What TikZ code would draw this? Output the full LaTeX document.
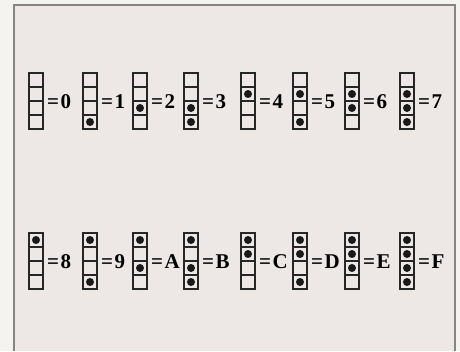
\documentclass[tikz,border=0pt]{standalone}
\usepackage{fontspec}
\setmainfont{Liberation Serif}
\usetikzlibrary{positioning}
\definecolor{paper}{HTML}{F5F3EF}
\definecolor{panel}{HTML}{EDE7E5}
\definecolor{frame}{HTML}{858585}

\begin{document}
\begin{tikzpicture}[
    x=1pt, y=-1pt,
    cell/.style={rectangle, draw=black!85, line width=1.3pt, minimum width=14pt, minimum height=14pt, inner sep=0pt, outer sep=0pt},
    bit/.style={circle, fill=black!90, minimum size=8pt, inner sep=0pt},
    digit/.style={font=\fontsize{21}{21}\selectfont\bfseries, inner sep=0pt, anchor=base west}
]

% Page and frame
\fill[paper] (0,0) rectangle (460,351);
\fill[panel] (14,5) rectangle (455,351);
\draw[frame, line width=1.5pt] (14,351) -- (14,5) -- (455,5) -- (455,351);

% Hex digits as four-cell columns (top cell = 8, bottom cell = 1)
\foreach \v/\x/\y/\lab in {0/29/73/0, 1/83/73/1, 2/133/73/2, 3/184/73/3,
                          4/241/73/4, 5/293/73/5, 6/345/73/6, 7/400/73/7,
                          8/29/233/8, 9/83/233/9, 10/133/233/A, 11/184/233/B,
                          12/241/233/C, 13/293/233/D, 14/345/233/E, 15/400/233/F}
{
  \foreach \b [count=\k from 0] in {8,4,2,1} {
    \node[cell] (g\v-\k) at (\x+7, \y+7+14*\k) {};
    \pgfmathtruncatemacro\on{mod(int(\v/\b),2)}
    \ifnum\on=1 \node[bit] (d\v-\k) at (g\v-\k) {}; \fi
  }
  \node[digit] (lbl\v) at ([xshift=4pt, yshift=-7pt]g\v-2.north east) {=\hspace{1.5pt}\lab};
}

\end{tikzpicture}
\end{document}
